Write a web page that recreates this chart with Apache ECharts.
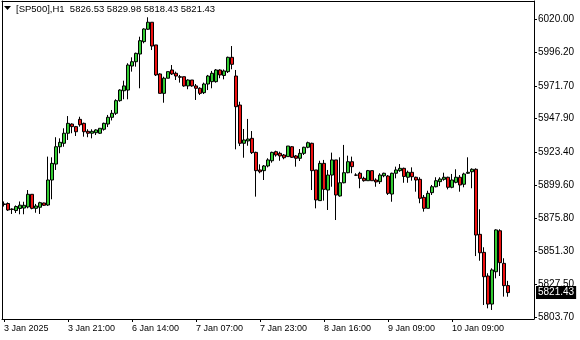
<!DOCTYPE html>
<html>
<head>
<meta charset="utf-8">
<script src="https://cdn.jsdelivr.net/npm/echarts@6/dist/echarts.min.js"></script>
<style>
html,body{margin:0;padding:0;background:#fff;}
#chart{width:580px;height:340px;}
</style>
</head>
<body>
<div id="chart"></div>
<script>
const symbolName = '[SP500],H1';
const slotCount = 133;
const xTickIdx = [0, 16, 32, 48, 64, 80, 96, 112];
const xTickLabels = ['3 Jan 2025', '3 Jan 21:00', '6 Jan 14:00', '7 Jan 07:00', '7 Jan 23:00', '8 Jan 16:00', '9 Jan 09:00', '10 Jan 09:00'];
const yTickValues = [5803.7, 5827.5, 5851.3, 5875.8, 5899.6, 5923.4, 5947.9, 5971.7, 5996.2, 6020.0];
const yMin = 5802.24, yMax = 6033.45;

const opens = [5885.5,5886.2,5882.2,5881.1,5882.6,5882.9,5883.7,5892.9,5882.7,5883.5,
5886.6,5885.1,5903.3,5914.9,5927.5,5930.0,5937.3,5944.0,5942.1,5947.4,
5944.5,5938.7,5937.3,5937.7,5937.3,5940.2,5944.0,5948.9,5951.8,5961.0,
5968.2,5968.7,5986.2,5989.3,5994.9,6003.9,6012.9,6018.0,6001.5,5980.4,
5966.3,5977.3,5983.3,5980.9,5978.4,5978.4,5971.7,5976.0,5971.7,5970.0,
5966.8,5973.1,5974.8,5974.8,5983.3,5979.3,5982.1,5992.5,5978.9,5957.8,
5930.0,5931.7,5933.6,5923.4,5910.6,5910.1,5913.5,5917.3,5923.9,5922.7,
5921.5,5920.3,5927.5,5920.8,5919.1,5922.7,5927.1,5930.0,5910.6,5888.3,
5915.4,5896.0,5906.9,5917.9,5891.7,5901.3,5908.6,5916.6,5906.9,5908.2,
5904.5,5902.8,5910.1,5903.3,5902.1,5906.4,5906.2,5893.1,5908.2,5910.1,
5911.8,5905.3,5908.9,5905.3,5903.8,5890.7,5882.7,5894.1,5898.4,5902.1,
5903.8,5905.3,5898.0,5901.6,5905.3,5900.2,5908.2,5909.3,5911.1,5863.8,
5850.7,5833.5,5813.1,5836.6,5866.4,5842.7,5826.53];
const closes = [5885.9,5881.5,5881.9,5884.0,5885.0,5884.9,5892.9,5882.7,5884.4,5886.8,
5884.9,5903.3,5915.4,5927.5,5930.7,5937.3,5944.5,5942.1,5938.4,5943.5,
5938.4,5937.3,5938.7,5939.7,5940.9,5944.5,5948.9,5951.8,5961.0,5968.7,
5971.7,5986.9,5989.3,5995.4,6004.6,6013.1,6018.0,6000.7,5979.7,5966.3,
5977.3,5982.1,5980.4,5978.9,5978.0,5971.7,5976.0,5971.7,5970.0,5966.3,
5973.1,5978.9,5980.9,5983.3,5979.7,5982.6,5992.5,5987.4,5956.6,5930.0,
5932.4,5933.1,5923.2,5910.1,5909.3,5913.5,5917.9,5923.4,5921.5,5920.8,
5919.5,5928.0,5919.8,5919.1,5922.7,5927.1,5930.4,5910.1,5888.8,5915.4,
5896.5,5906.9,5917.9,5892.4,5901.3,5908.6,5916.6,5913.0,5906.8,5904.5,
5902.8,5910.1,5902.8,5901.9,5906.9,5908.2,5893.6,5908.2,5910.6,5911.8,
5905.9,5908.9,5905.7,5903.3,5890.0,5882.7,5893.6,5898.4,5902.8,5904.0,
5905.3,5898.0,5903.3,5905.3,5899.7,5907.7,5908.9,5911.1,5863.3,5850.4,
5833.0,5813.1,5837.9,5867.0,5843.2,5826.5,5821.43];
const lows = [5884.0,5880.8,5878.6,5879.3,5878.4,5878.4,5882.7,5882.0,5879.5,5878.6,
5884.4,5884.4,5889.3,5910.6,5922.7,5927.5,5932.4,5937.3,5935.3,5942.1,
5934.8,5934.4,5933.6,5936.0,5936.8,5939.2,5941.8,5946.6,5950.6,5960.2,
5962.0,5962.0,5982.1,5985.7,5970.0,6002.7,6012.4,5997.8,5978.9,5966.3,
5959.5,5977.3,5979.7,5976.0,5974.1,5971.1,5969.3,5971.1,5961.5,5965.1,
5965.8,5968.7,5970.0,5974.1,5977.3,5976.5,5981.1,5983.8,5925.6,5928.0,
5919.5,5928.2,5922.2,5891.2,5908.2,5903.3,5912.5,5915.9,5920.3,5917.3,
5918.4,5920.3,5919.3,5913.0,5917.1,5921.5,5926.4,5896.0,5882.7,5888.3,
5888.3,5881.5,5898.4,5874.2,5891.2,5900.9,5908.2,5908.2,5906.2,5897.3,
5902.1,5902.8,5902.8,5898.4,5900.4,5905.3,5892.4,5887.5,5904.5,5909.3,
5901.3,5901.3,5902.8,5894.8,5886.4,5880.3,5882.7,5892.4,5898.0,5898.9,
5902.8,5896.5,5897.3,5900.9,5894.8,5898.0,5907.7,5897.3,5848.0,5844.6,
5812.4,5810.0,5808.8,5831.8,5833.5,5818.5,5818.43];
const highs = [5887.7,5887.0,5882.7,5884.8,5887.7,5887.5,5896.0,5893.1,5885.9,5887.5,
5886.8,5920.3,5919.8,5934.4,5933.6,5940.9,5949.8,5944.5,5942.6,5949.3,
5945.0,5940.2,5940.2,5940.2,5940.9,5945.0,5950.6,5954.2,5962.0,5969.3,
5975.5,5988.2,5992.5,5995.9,6007.5,6013.6,6021.6,6018.0,6001.5,5980.9,
5978.4,5982.1,5986.9,5982.1,5979.7,5978.4,5976.5,5976.0,5973.1,5970.7,
5974.1,5979.7,5982.6,5984.0,5983.8,5983.7,5993.0,6000.7,5983.3,5960.2,
5940.4,5947.7,5938.9,5923.9,5914.7,5914.2,5919.1,5923.9,5924.6,5923.9,
5922.2,5928.0,5928.0,5921.5,5925.8,5927.5,5931.2,5930.4,5910.6,5917.3,
5917.9,5910.6,5923.2,5917.9,5919.8,5928.8,5921.0,5920.3,5908.2,5909.3,
5905.7,5910.6,5910.1,5904.5,5908.2,5908.6,5906.9,5908.6,5913.0,5914.9,
5912.3,5910.1,5912.5,5905.7,5905.3,5892.4,5895.5,5899.7,5905.3,5905.3,
5908.6,5905.7,5907.7,5911.1,5906.9,5908.6,5919.8,5911.8,5911.8,5882.0,
5854.4,5835.5,5839.1,5867.5,5867.5,5846.4,5829.98];

const FONT = '"Liberation Sans", Arial, sans-serif';
const categories = Array.from({length: slotCount}, (_, i) => String(i));
const ohlc = opens.map((o, i) => [o, closes[i], lows[i], highs[i]]);
const last = opens.length - 1;
const lastPrice = closes[last];
const titleText = symbolName + '  ' + [opens[last], highs[last], lows[last], closes[last]].map(v => v.toFixed(2)).join(' ');
const showIdx = (i) => xTickIdx.indexOf(i) >= 0;
const frameLine = {show: true, lineStyle: {color: '#000', width: 1}};

const chart = echarts.init(document.getElementById('chart'), null, {renderer: 'canvas'});
chart.setOption({
  animation: false,
  backgroundColor: '#ffffff',
  title: {
    text: titleText, left: 16, top: 4, padding: 0,
    textStyle: {fontSize: 9.5, fontWeight: 'normal', color: '#000', fontFamily: FONT}
  },
  graphic: [{
    type: 'polygon', shape: {points: [[4, 6], [11, 6], [7.5, 10]]},
    style: {fill: '#000'}, silent: true
  }],
  grid: {left: 2, right: 46, top: 1, bottom: 21, show: false},
  xAxis: [{
    type: 'category', data: categories, boundaryGap: true,
    axisLine: frameLine,
    axisTick: {show: true, alignWithLabel: true, length: 3, interval: (i) => showIdx(i), lineStyle: {color: '#000'}},
    axisLabel: {
      interval: (i) => showIdx(i),
      formatter: (v, i) => { const k = xTickIdx.indexOf(Number(v)); return k >= 0 ? xTickLabels[k] : ''; },
      align: 'left', color: '#000', fontSize: 9, fontFamily: FONT, margin: 5
    },
    splitLine: {show: false}
  }, {
    type: 'category', data: categories, position: 'top',
    axisLine: frameLine, axisTick: {show: false}, axisLabel: {show: false}, splitLine: {show: false}
  }],
  yAxis: [{
    type: 'value', position: 'right', min: yMin, max: yMax, scale: true,
    axisLine: frameLine,
    axisTick: {show: true, length: 3, customValues: yTickValues, lineStyle: {color: '#000'}},
    axisLabel: {
      customValues: yTickValues, formatter: (v) => Number(v).toFixed(2),
      color: '#000', fontSize: 10, fontFamily: FONT, margin: 4
    },
    splitLine: {show: false}
  }, {
    type: 'value', position: 'left', min: yMin, max: yMax,
    axisLine: frameLine, axisTick: {show: false}, axisLabel: {show: false}, splitLine: {show: false}
  }],
  series: [{
    type: 'candlestick',
    data: ohlc,
    barWidth: 3,
    itemStyle: {
      color: '#33CC33', color0: '#EE1111',
      borderColor: '#000', borderColor0: '#000', borderWidth: 1
    },
    markLine: {
      silent: true, symbol: 'none', animation: false,
      lineStyle: {color: 'rgba(0,0,0,0)', width: 0},
      label: {
        show: true, position: 'end', distance: 2,
        formatter: () => lastPrice.toFixed(2),
        backgroundColor: '#000', color: '#fff', fontSize: 10, fontFamily: FONT,
        padding: [1, 2, 1, 2], lineHeight: 11
      },
      data: [{yAxis: lastPrice}]
    }
  }]
});
</script>
</body>
</html>
